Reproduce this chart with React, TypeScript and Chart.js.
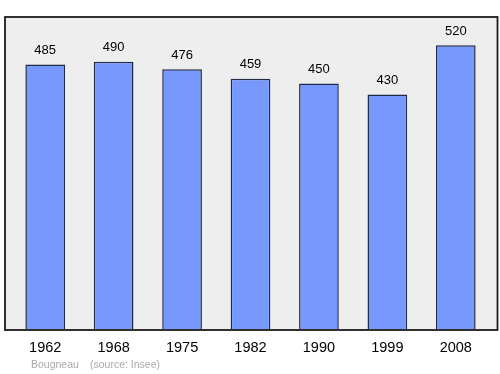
import React, { useEffect, useRef } from "react";
import { Chart, registerables } from "chart.js";

Chart.register(...registerables);

const years = ["1962", "1968", "1975", "1982", "1990", "1999", "2008"];
const population = [485, 490, 476, 459, 450, 430, 520];
const placeName = "Bougneau";
const sourceText = "(source: Insee)";

const framePlugin = {
  id: "frame",
  beforeDatasetsDraw(chart: any) {
    const { ctx, chartArea } = chart;
    const l = chartArea.left - 6;
    const r = chartArea.right + 7.5;
    const t = chartArea.top;
    const b = chartArea.bottom + 1;
    ctx.save();
    ctx.fillStyle = "#eeeeee";
    ctx.fillRect(l, t, r - l, b - t);
    ctx.restore();
  },
  afterDatasetsDraw(chart: any) {
    const { ctx, chartArea } = chart;
    const l = chartArea.left - 6;
    const r = chartArea.right + 7.5;
    const t = chartArea.top;
    const b = chartArea.bottom + 1;
    ctx.save();
    ctx.strokeStyle = "#1a1a1a";
    ctx.lineWidth = 1.8;
    ctx.strokeRect(l, t, r - l, b - t);
    // value labels
    const meta = chart.getDatasetMeta(0);
    ctx.fillStyle = "#000";
    ctx.font = "13px 'Liberation Sans', Arial, sans-serif";
    ctx.textAlign = "center";
    ctx.textBaseline = "middle";
    meta.data.forEach((bar: any, i: number) => {
      ctx.fillText(String(chart.data.datasets[0].data[i]), bar.x, bar.y - 14);
    });
    // footer
    ctx.fillStyle = "#aaaaaa";
    ctx.font = "10.5px 'Liberation Sans', Arial, sans-serif";
    ctx.textAlign = "left";
    ctx.fillText(placeName, 31, 365);
    ctx.fillText(sourceText, 90, 365);
    ctx.restore();
  },
};

export default function App() {
  const ref = useRef<HTMLCanvasElement>(null);
  useEffect(() => {
    document.body.style.margin = "0";
    const chart = new Chart(ref.current!, {
      type: "bar",
      data: {
        labels: years,
        datasets: [
          {
            data: population,
            backgroundColor: "#7799ff",
            borderColor: "#1f2a44",
            borderWidth: 1.5,
            barPercentage: 0.58,
            categoryPercentage: 1,
          },
        ],
      },
      options: {
        responsive: false,
        animation: false,
        layout: { padding: { left: 11, right: 10, top: 17, bottom: 0 } },
        plugins: { legend: { display: false }, tooltip: { enabled: false } },
        scales: {
          x: {
            grid: { display: false },
            border: { display: false },
            ticks: {
              color: "#000",
              font: { size: 14.5, family: "'Liberation Sans', Arial, sans-serif" },
              padding: 2,
            },
            afterFit: (s: any) => {
              s.height = 45;
            },
          },
          y: {
            display: false,
            min: 0,
            max: 572,
          },
        },
      },
      plugins: [framePlugin],
    });
    return () => chart.destroy();
  }, []);
  return (
    <div style={{ width: 500, height: 374 }}>
      <canvas ref={ref} width={500} height={374} />
    </div>
  );
}
